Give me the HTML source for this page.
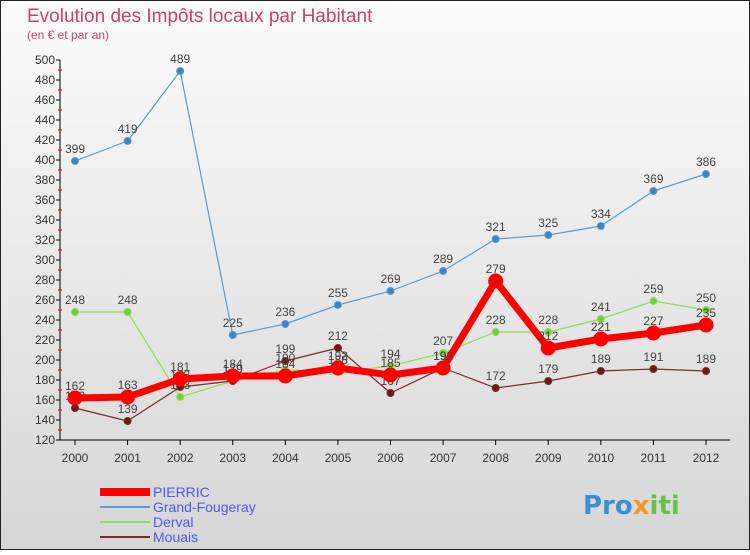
<!DOCTYPE html>
<html><head><meta charset="utf-8"><style>
html,body{margin:0;padding:0}
body{width:750px;height:550px;overflow:hidden;font-family:"Liberation Sans",sans-serif}
</style></head><body>
<svg width="750" height="550" xmlns="http://www.w3.org/2000/svg">
<defs><linearGradient id="bg" x1="0" y1="0" x2="0" y2="1"><stop offset="0" stop-color="#fbfbfb"/><stop offset="1" stop-color="#d6d6d6"/></linearGradient></defs>
<rect x="0.5" y="0.5" width="749" height="549" fill="url(#bg)" stroke="#222"/>
<text x="27" y="22" font-size="19" fill="#c8426a">Evolution des Impôts locaux par Habitant</text>
<text x="27" y="39" font-size="12" fill="#c8426a">(en € et par an)</text>
<g id="axes"></g><g id="series"></g>
<g>
<line x1="100" y1="492" x2="150" y2="492" stroke="#f00" stroke-width="8"/>
<text x="153" y="497" font-size="14" fill="#4a5cf0">PIERRIC</text>
<line x1="100" y1="507" x2="150" y2="507" stroke="#5b9bd0" stroke-width="2"/>
<text x="153" y="512" font-size="14" fill="#4a5cf0">Grand-Fougeray</text>
<line x1="100" y1="522" x2="150" y2="522" stroke="#8fdc5a" stroke-width="2"/>
<text x="153" y="527" font-size="14" fill="#4a5cf0">Derval</text>
<line x1="100" y1="537" x2="150" y2="537" stroke="#7a2a2a" stroke-width="2"/>
<text x="153" y="542" font-size="14" fill="#4a5cf0">Mouais</text>
</g>
<text x="583" y="514" font-size="26" font-weight="bold" font-family="DejaVu Sans, sans-serif" fill="#3a8fd0">Pro<tspan fill="#f39a1e">x</tspan><tspan fill="#6cc04a">iti</tspan></text>
</svg>
<script>
const years=[2000,2001,2002,2003,2004,2005,2006,2007,2008,2009,2010,2011,2012];
const yTicks=[120,140,160,180,200,220,240,260,280,300,320,340,360,380,400,420,440,460,480,500];
const pierric=[162,163,181,184,184,192,185,192,279,212,221,227,235];
const grandFougeray=[399,419,489,225,236,255,269,289,321,325,334,369,386];
const derval=[248,248,163,179,190,188,194,207,228,228,241,259,250];
const mouais=[152,139,173,179,199,212,167,192,172,179,189,191,189];
const NS="http://www.w3.org/2000/svg";
function xS(i){return 75+i*(706-75)/(years.length-1);}
function yS(v){return 440-(v-120)*(380/380);}
function mk(t,a,p){const e=document.createElementNS(NS,t);for(const k in a)e.setAttribute(k,a[k]);p.appendChild(e);return e;}
const ax=document.getElementById('axes');
const yl=mk('line',{x1:60,y1:60,x2:60,y2:440,stroke:'#000'},ax);


const xl=mk('line',{x1:60,y1:440,x2:730,y2:440,stroke:'#000'},ax);


yTicks.forEach(v=>{
 mk('line',{x1:56,y1:yS(v),x2:60,y2:yS(v),stroke:'#000'},ax);
 if(v<500) mk('line',{x1:58,y1:yS(v)-10,x2:62,y2:yS(v)-10,stroke:'#e00'},ax);
 const t=mk('text',{x:55,y:yS(v)+4,'font-size':12,'text-anchor':'end',fill:'#333'},ax);
 t.textContent=v;
 
 
});
years.forEach((y,i)=>{
 mk('line',{x1:xS(i),y1:440,x2:xS(i),y2:445,stroke:'#000'},ax);
 const t=mk('text',{x:xS(i),y:462,'font-size':12,'text-anchor':'middle',fill:'#333'},ax);
 t.textContent=y;
 
 
});
const sg=document.getElementById('series');
function draw(vals,name,color,w,r,dot){
 const g=mk('g',{},sg);
 
 
 mk('polyline',{points:vals.map((v,i)=>xS(i)+','+yS(v)).join(' '),fill:'none',stroke:color,'stroke-width':w,'stroke-linejoin':'round'},g);
 vals.forEach((v,i)=>{
  const c=mk('circle',{cx:xS(i),cy:yS(v),r:r,fill:dot,stroke:color,'stroke-width':1},g);
  
  
  const t=mk('text',{x:xS(i),y:yS(v)-8,'font-size':12,'text-anchor':'middle',fill:'#444'},g);
  t.textContent=v;
  
  
 });
}
draw(grandFougeray,'grand-fougeray','#5b9bd0',1.2,3.5,'#3a85c8');
draw(derval,'derval','#8fdc5a',1.2,3.5,'#6fcf3a');
draw(mouais,'mouais','#7a2a2a',1.2,3.5,'#6a1a1a');
draw(pierric,'pierric','#f00',7,7,'#f00');
</script>
</body></html>
